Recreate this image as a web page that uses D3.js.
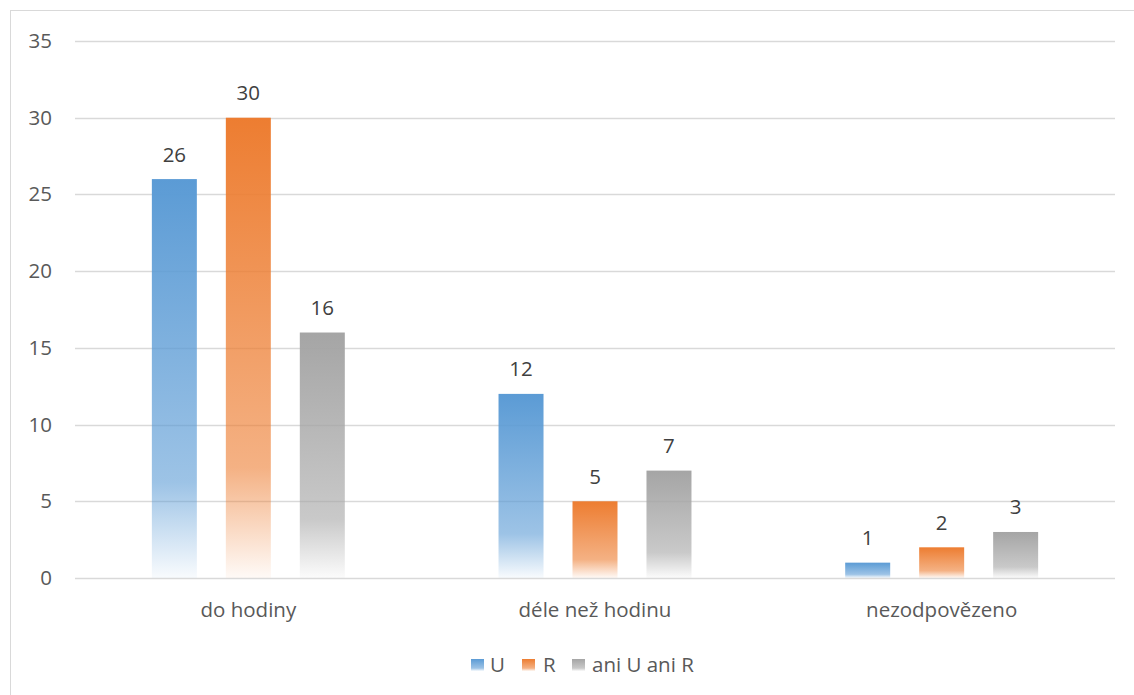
<!DOCTYPE html>
<html>
<head>
<meta charset="utf-8">
<script src="https://cdn.jsdelivr.net/npm/d3@7"></script>
<style>
  html, body { margin: 0; padding: 0; background: #fff; }
  svg { display: block; }
  text { font-family: "Open Sans", "Noto Sans", sans-serif; }
</style>
</head>
<body>
<svg id="chart" width="1134" height="695"></svg>
<script>
// Response time categories and answer counts per group
const categories = ["do hodiny", "déle než hodinu", "nezodpovězeno"];
const seriesNames = ["U", "R", "ani U ani R"];
const valuesU = [26, 12, 1];
const valuesR = [30, 5, 2];
const valuesNeither = [16, 7, 3];
const yTicks = [0, 5, 10, 15, 20, 25, 30, 35];
const colors = ["#5b9bd5", "#ed7d31", "#a5a5a5"];

const series = [valuesU, valuesR, valuesNeither];

const svg = d3.select("#chart");
const W = 1134, H = 695;
const margin = { left: 75, right: 19, top: 41, bottom: 117 };
const FS = "20.5px";

// Outer chart frame
svg.append("rect")
  .attr("x", 10.5).attr("y", 10.5)
  .attr("width", W + 20).attr("height", H + 20)
  .attr("fill", "#fff").attr("stroke", "#d9d9d9").attr("stroke-width", 1);

// Vertical gradients per series: solid at top, fading to white at the base
const defs = svg.append("defs");
colors.forEach((c, i) => {
  const g = defs.append("linearGradient")
    .attr("id", "grad" + i)
    .attr("x1", 0).attr("y1", 0).attr("x2", 0).attr("y2", 1);
  g.append("stop").attr("offset", "0%").attr("stop-color", c).attr("stop-opacity", 1);
  g.append("stop").attr("offset", "76%").attr("stop-color", c).attr("stop-opacity", 0.6);
  g.append("stop").attr("offset", "100%").attr("stop-color", c).attr("stop-opacity", 0.04);
});

const x = d3.scaleBand()
  .domain(categories)
  .range([margin.left, W - margin.right])
  .paddingInner(0).paddingOuter(0);

const y = d3.scaleLinear()
  .domain([0, 35])
  .range([H - margin.bottom, margin.top]);

const bw = x.bandwidth();
const barW = bw * 0.1298;
const step = bw * 0.2134;

// Horizontal gridlines
svg.append("g")
  .selectAll("line")
  .data(yTicks)
  .join("line")
  .attr("x1", margin.left).attr("x2", W - margin.right)
  .attr("y1", d => Math.round(y(d)) + 0.5).attr("y2", d => Math.round(y(d)) + 0.5)
  .attr("stroke", "#d9d9d9").attr("stroke-width", 1.3);

// Y axis labels
const yAxis = d3.axisLeft(y).tickValues(yTicks).tickSize(0).tickPadding(0);
const yg = svg.append("g")
  .attr("transform", `translate(${margin.left - 23},0)`)
  .call(yAxis);
yg.select(".domain").remove();
yg.selectAll("text")
  .attr("fill", "#595959")
  .style("font-size", FS)
  .style("font-family", '"Open Sans", sans-serif');

// Bars
const groups = svg.append("g");
series.forEach((vals, si) => {
  groups.append("g")
    .selectAll("rect")
    .data(vals.map((v, ci) => ({ v, c: categories[ci] })))
    .join("rect")
    .attr("x", d => x(d.c) + bw / 2 + (si - 1) * step - barW / 2)
    .attr("y", d => y(d.v))
    .attr("width", barW)
    .attr("height", d => y(0) - y(d.v))
    .attr("fill", `url(#grad${si})`);

  // Value labels above bars
  groups.append("g")
    .selectAll("text")
    .data(vals.map((v, ci) => ({ v, c: categories[ci] })))
    .join("text")
    .attr("x", d => x(d.c) + bw / 2 + (si - 1) * step)
    .attr("y", d => y(d.v) - 17.5)
    .attr("text-anchor", "middle")
    .attr("fill", "#404040")
    .style("font-size", FS)
    .text(d => d.v);
});

// Category axis labels
const xAxis = d3.axisBottom(x).tickSize(0).tickPadding(0);
const xg = svg.append("g")
  .attr("transform", `translate(0,${y(0)})`)
  .call(xAxis);
xg.select(".domain").remove();
xg.selectAll("text")
  .attr("y", 39).attr("dy", 0)
  .attr("fill", "#595959")
  .style("font-size", FS)
  .style("font-family", '"Open Sans", sans-serif');

// Legend
const legendY = 665;
const legendItems = [
  { name: seriesNames[0], x: 471, tx: 490 },
  { name: seriesNames[1], x: 522, tx: 543 },
  { name: seriesNames[2], x: 572, tx: 592 }
];
const lg = svg.append("g");
legendItems.forEach((it, i) => {
  lg.append("rect")
    .attr("x", it.x).attr("y", legendY - 6)
    .attr("width", 13).attr("height", 12)
    .attr("fill", `url(#grad${i})`);
  lg.append("text")
    .attr("x", it.tx).attr("y", legendY)
    .attr("dy", "0.35em")
    .attr("fill", "#595959")
    .style("font-size", FS)
    .text(it.name);
});
</script>
</body>
</html>
